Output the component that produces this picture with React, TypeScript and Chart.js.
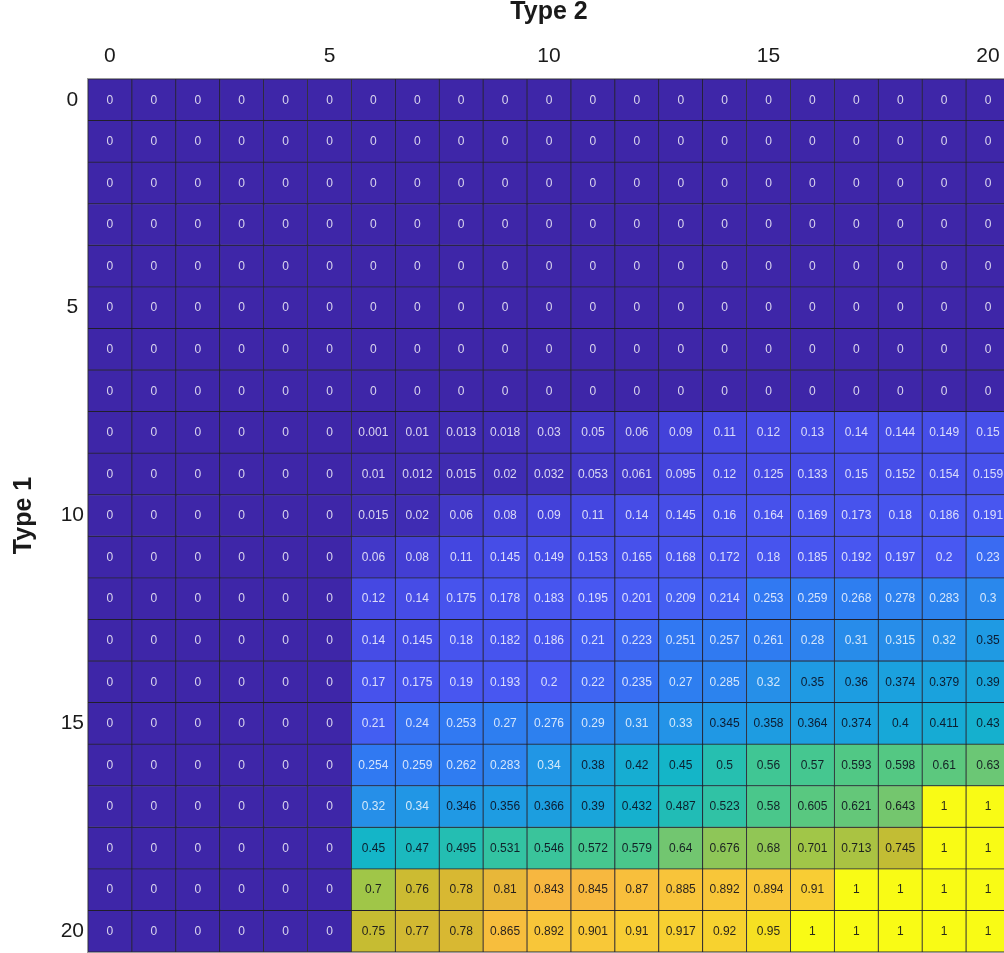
import React, { useEffect, useRef } from "react";
import { Chart, registerables } from "chart.js";

Chart.register(...registerables);

// ---- data ----
const colLabels = ["0","1","2","3","4","5","6","7","8","9","10","11","12","13","14","15","16","17","18","19","20"];
const rowLabels = ["0","1","2","3","4","5","6","7","8","9","10","11","12","13","14","15","16","17","18","19","20"];
const tickValues = [0, 5, 10, 15, 20];

const typeRow0 = [0,0,0,0,0,0,0,0,0,0,0,0,0,0,0,0,0,0,0,0,0];
const typeRow1 = [0,0,0,0,0,0,0,0,0,0,0,0,0,0,0,0,0,0,0,0,0];
const typeRow2 = [0,0,0,0,0,0,0,0,0,0,0,0,0,0,0,0,0,0,0,0,0];
const typeRow3 = [0,0,0,0,0,0,0,0,0,0,0,0,0,0,0,0,0,0,0,0,0];
const typeRow4 = [0,0,0,0,0,0,0,0,0,0,0,0,0,0,0,0,0,0,0,0,0];
const typeRow5 = [0,0,0,0,0,0,0,0,0,0,0,0,0,0,0,0,0,0,0,0,0];
const typeRow6 = [0,0,0,0,0,0,0,0,0,0,0,0,0,0,0,0,0,0,0,0,0];
const typeRow7 = [0,0,0,0,0,0,0,0,0,0,0,0,0,0,0,0,0,0,0,0,0];
const typeRow8 = [0,0,0,0,0,0,0.001,0.01,0.013,0.018,0.03,0.05,0.06,0.09,0.11,0.12,0.13,0.14,0.144,0.149,0.15];
const typeRow9 = [0,0,0,0,0,0,0.01,0.012,0.015,0.02,0.032,0.053,0.061,0.095,0.12,0.125,0.133,0.15,0.152,0.154,0.159];
const typeRow10 = [0,0,0,0,0,0,0.015,0.02,0.06,0.08,0.09,0.11,0.14,0.145,0.16,0.164,0.169,0.173,0.18,0.186,0.191];
const typeRow11 = [0,0,0,0,0,0,0.06,0.08,0.11,0.145,0.149,0.153,0.165,0.168,0.172,0.18,0.185,0.192,0.197,0.2,0.23];
const typeRow12 = [0,0,0,0,0,0,0.12,0.14,0.175,0.178,0.183,0.195,0.201,0.209,0.214,0.253,0.259,0.268,0.278,0.283,0.3];
const typeRow13 = [0,0,0,0,0,0,0.14,0.145,0.18,0.182,0.186,0.21,0.223,0.251,0.257,0.261,0.28,0.31,0.315,0.32,0.35];
const typeRow14 = [0,0,0,0,0,0,0.17,0.175,0.19,0.193,0.2,0.22,0.235,0.27,0.285,0.32,0.35,0.36,0.374,0.379,0.39];
const typeRow15 = [0,0,0,0,0,0,0.21,0.24,0.253,0.27,0.276,0.29,0.31,0.33,0.345,0.358,0.364,0.374,0.4,0.411,0.43];
const typeRow16 = [0,0,0,0,0,0,0.254,0.259,0.262,0.283,0.34,0.38,0.42,0.45,0.5,0.56,0.57,0.593,0.598,0.61,0.63];
const typeRow17 = [0,0,0,0,0,0,0.32,0.34,0.346,0.356,0.366,0.39,0.432,0.487,0.523,0.58,0.605,0.621,0.643,1,1];
const typeRow18 = [0,0,0,0,0,0,0.45,0.47,0.495,0.531,0.546,0.572,0.579,0.64,0.676,0.68,0.701,0.713,0.745,1,1];
const typeRow19 = [0,0,0,0,0,0,0.7,0.76,0.78,0.81,0.843,0.845,0.87,0.885,0.892,0.894,0.91,1,1,1,1];
const typeRow20 = [0,0,0,0,0,0,0.75,0.77,0.78,0.865,0.892,0.901,0.91,0.917,0.92,0.95,1,1,1,1,1];

const matrix = [
  typeRow0, typeRow1, typeRow2, typeRow3, typeRow4, typeRow5, typeRow6,
  typeRow7, typeRow8, typeRow9, typeRow10, typeRow11, typeRow12, typeRow13,
  typeRow14, typeRow15, typeRow16, typeRow17, typeRow18, typeRow19, typeRow20,
];

// ---- colour map (parula-like) ----
const cmapStops = [0, 0.1, 0.2, 0.25, 0.3, 0.35, 0.4, 0.45, 0.5, 0.56, 0.6, 0.64, 0.7, 0.75, 0.78, 0.84, 0.9, 0.95, 1];
const cmapColors = [
  "#3E26A8", "#4444DE", "#4858F2", "#3178F2", "#2A88EC", "#1F9AE3", "#17A8D8", "#14B5C8",
  "#26BFB0", "#40C694", "#55C882", "#72C670", "#A0C648", "#C6BC32", "#D8B832", "#F7B640",
  "#F8C838", "#F6E022", "#F9FB15",
];

function hexToRgb(h: string) {
  const n = parseInt(h.slice(1), 16);
  return [(n >> 16) & 255, (n >> 8) & 255, n & 255];
}

function colorFor(v: number) {
  const t = Math.max(0, Math.min(1, v));
  let i = 0;
  while (i < cmapStops.length - 2 && t > cmapStops[i + 1]) i++;
  const a = hexToRgb(cmapColors[i]);
  const b = hexToRgb(cmapColors[i + 1]);
  const f = (t - cmapStops[i]) / (cmapStops[i + 1] - cmapStops[i]);
  const c = a.map((x, k) => Math.round(x + (b[k] - x) * f));
  return `rgb(${c[0]},${c[1]},${c[2]})`;
}

const FONT = "'Liberation Sans', Arial, Helvetica, sans-serif";

const cellTextPlugin = {
  id: "cellText",
  afterDatasetsDraw(chart: any) {
    const ctx = chart.ctx;
    ctx.save();
    ctx.font = `12px ${FONT}`;
    ctx.textAlign = "center";
    ctx.textBaseline = "middle";
    chart.data.datasets.forEach((ds: any, r: number) => {
      const meta = chart.getDatasetMeta(r);
      meta.data.forEach((el: any, c: number) => {
        const v = ds.values[c];
        ctx.fillStyle = v >= 0.345 ? "rgba(10,10,25,0.88)" : "rgba(255,255,255,0.8)";
        ctx.fillText(String(v), el.x, (el.y + el.base) / 2 + 0.5);
      });
    });
    const a = chart.chartArea;
    ctx.strokeStyle = "#9a9a9a";
    ctx.lineWidth = 1;
    ctx.strokeRect(a.left - 0.5, a.top - 0.5, a.right - a.left + 1, a.bottom - a.top + 1);
    ctx.restore();
  },
};

export default function App() {
  const ref = useRef<HTMLCanvasElement>(null);

  useEffect(() => {
    if (!ref.current) return;
    const datasets = matrix.map((row, r) => ({
      label: rowLabels[r],
      values: row,
      data: row.map(() => [r - 0.5, r + 0.5]),
      backgroundColor: row.map((v) => colorFor(v)),
      borderColor: "rgba(22,20,34,0.9)",
      borderWidth: 0.8,
      borderSkipped: false,
      barPercentage: 1,
      categoryPercentage: 1,
    }));

    const chart = new Chart(ref.current, {
      type: "bar",
      data: { labels: colLabels, datasets: datasets as any },
      options: {
        responsive: false,
        animation: false,
        layout: { padding: { left: 0, right: 0, top: 0, bottom: 1 } },
        plugins: {
          legend: { display: false },
          tooltip: { enabled: false },
          title: { display: false },
        },
        scales: {
          x: {
            type: "category",
            position: "top",
            stacked: true,
            offset: true,
            grid: { display: false, drawTicks: false },
            border: { display: false },
            ticks: {
              autoSkip: false,
              maxRotation: 0,
              minRotation: 0,
              padding: 10,
              color: "#1a1a1a",
              font: { family: FONT, size: 21 },
              callback: (_v: any, idx: number) => (tickValues.includes(idx) ? colLabels[idx] : ""),
            },
            title: {
              display: true,
              text: "Type 2",
              color: "#1a1a1a",
              font: { family: FONT, size: 25, weight: "bold", lineHeight: 1 },
              padding: { top: 0, bottom: 0 },
            },
            afterFit: (s: any) => {
              s.height = 79;
              s.paddingLeft = 0;
              s.paddingRight = 0;
            },
          },
          y: {
            type: "linear",
            min: -0.5,
            max: 20.5,
            reverse: true,
            stacked: false,
            grid: { display: false, drawTicks: false },
            border: { display: false },
            afterBuildTicks: (s: any) => { s.ticks = tickValues.map((v) => ({ value: v })); },
            ticks: {
              crossAlign: "center",
              padding: 4,
              color: "#1a1a1a",
              font: { family: FONT, size: 21 },
              callback: (v: any) => rowLabels[Number(v)] ?? String(v),
            },
            title: {
              display: true,
              text: "Type 1",
              color: "#1a1a1a",
              font: { family: FONT, size: 25, weight: "bold", lineHeight: 1 },
              padding: { top: 12, bottom: 0 },
            },
            afterFit: (s: any) => {
              s.width = 88;
              s.paddingTop = 0;
              s.paddingBottom = 0;
            },
          },
        },
      } as any,
      plugins: [cellTextPlugin],
    });
    return () => chart.destroy();
  }, []);

  return (
    <div style={{ position: "fixed", left: 0, top: 0, width: 1004, height: 953, overflow: "hidden", background: "#fff" }}>
      <canvas ref={ref} width={1010} height={953} style={{ display: "block" }} />
    </div>
  );
}
